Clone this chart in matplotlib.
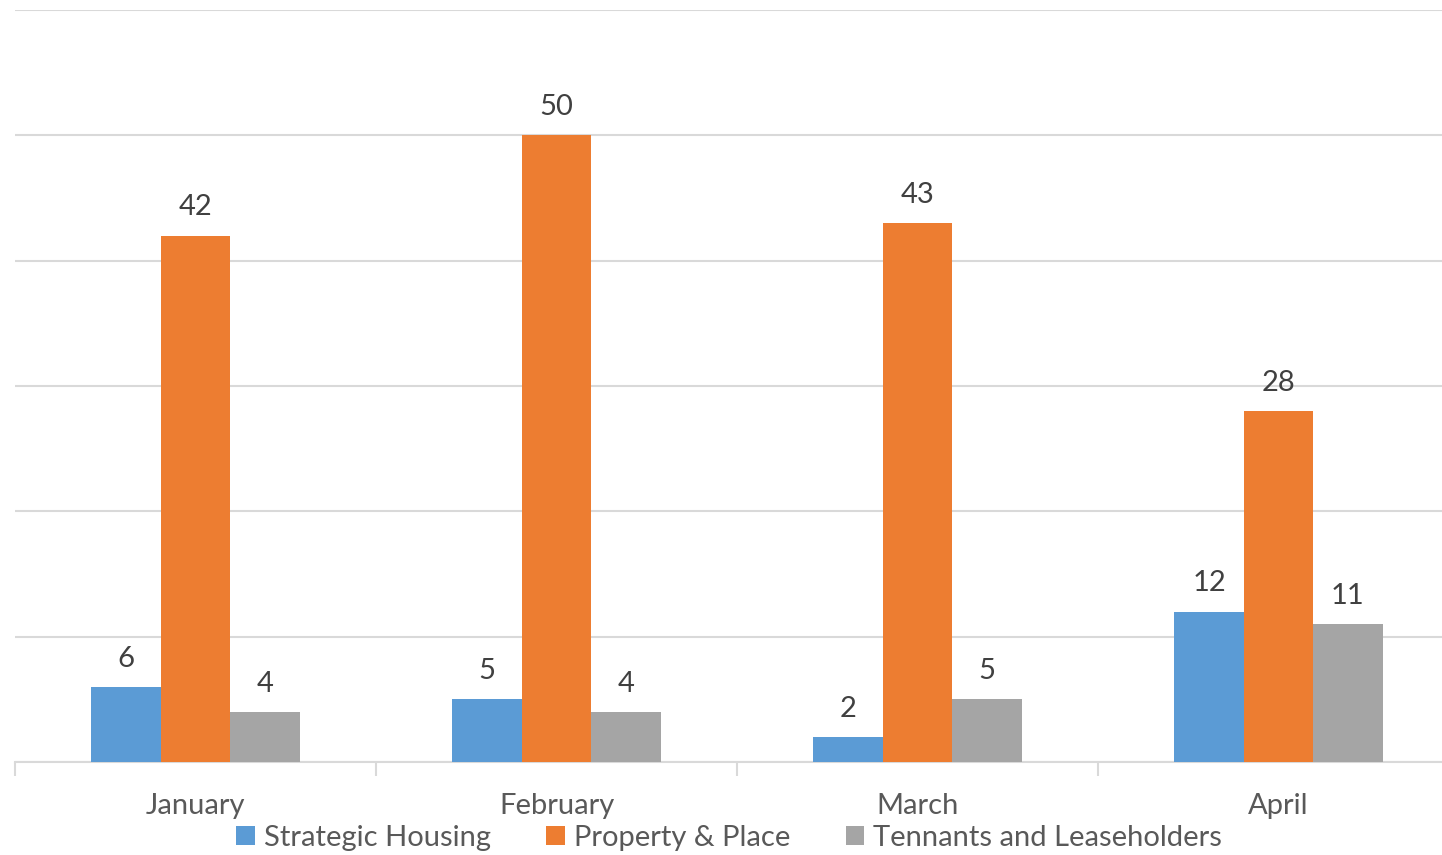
import numpy as np
import matplotlib.pyplot as plt

# monthly counts per team
months = ["January", "February", "March", "April"]
strategic_housing = [6, 5, 2, 12]
property_place = [42, 50, 43, 28]
tenants_leaseholders = [4, 4, 5, 11]

series_names = ["Strategic Housing", "Property & Place", "Tennants and Leaseholders"]
colors = ["#5B9BD5", "#ED7D31", "#A5A5A5"]

plt.rcParams['font.family'] = ['Lato', 'DejaVu Sans']

fig = plt.figure(figsize=(14.42, 8.55), dpi=100)
ax = fig.add_axes([15 / 1442, 1 - 762 / 855, 1444 / 1442, (762 - 10) / 855])

x = np.arange(len(months))
w = 0.1925
bars = []
for i, (vals, name, c) in enumerate(zip([strategic_housing, property_place, tenants_leaseholders],
                                        series_names, colors)):
    b = ax.bar(x + (i - 1) * w, vals, width=w, color=c, label=name, zorder=3)
    bars.append(b)
    ax.bar_label(b, labels=[str(v) for v in vals], padding=11, fontsize=21, color="#404040")

ax.set_xlim(-0.5, 3.5)
ax.set_ylim(0, 60)
ax.set_yticks(np.arange(0, 61, 10))
ax.yaxis.grid(True, color="#D9D9D9", linewidth=1.5, zorder=0)
ax.tick_params(axis='y', left=False, labelleft=False)

ax.set_xticks(x)
ax.set_xticklabels(months, fontsize=21, color="#595959")
ax.tick_params(axis='x', length=0, pad=22.5)
ax.set_xticks(np.arange(-0.5, 3.6, 1), minor=True)
ax.tick_params(axis='x', which='minor', length=10, width=1.5, color="#D9D9D9")

for s in ['top', 'right', 'left']:
    ax.spines[s].set_visible(False)
ax.spines['bottom'].set_color("#D9D9D9")
ax.spines['bottom'].set_linewidth(1.5)

leg = fig.legend(handles=bars, labels=series_names, loc='center', ncol=3,
                 bbox_to_anchor=(729 / 1442, 1 - 838 / 855), frameon=False,
                 fontsize=21, handlelength=0.65, handleheight=0.65, handletextpad=0.3,
                 columnspacing=1.9, labelcolor="#595959", borderpad=0)

fig.savefig("out.png", dpi=100)
